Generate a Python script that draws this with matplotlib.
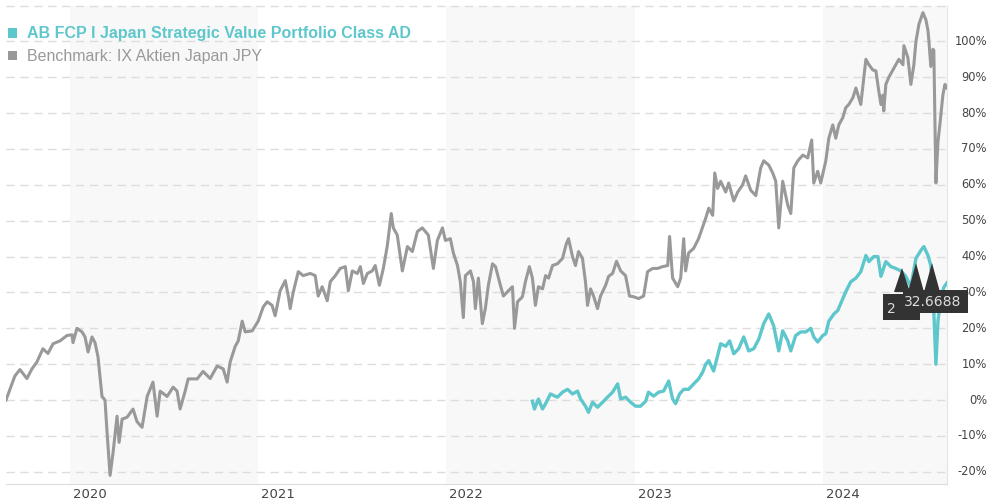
import matplotlib
matplotlib.use("Agg")
import matplotlib.pyplot as plt
import matplotlib.transforms as mtrans
from matplotlib.transforms import blended_transform_factory
from matplotlib.patches import Rectangle, Polygon

# ---- data (x in decimal years, y in % performance) ----
bench_t = [2019.660, 2019.681, 2019.707, 2019.734, 2019.771, 2019.798, 2019.824, 2019.856, 2019.883, 2019.910,
           2019.947, 2019.984, 2020.011, 2020.016, 2020.037, 2020.064, 2020.080, 2020.096, 2020.117, 2020.133,
           2020.149, 2020.170, 2020.186, 2020.197, 2020.213, 2020.229, 2020.250, 2020.261, 2020.277, 2020.303,
           2020.335, 2020.356, 2020.383, 2020.410, 2020.441, 2020.463, 2020.479, 2020.516, 2020.548, 2020.569,
           2020.585, 2020.612, 2020.628, 2020.676, 2020.707, 2020.745, 2020.782, 2020.814, 2020.835, 2020.851,
           2020.878, 2020.894, 2020.915, 2020.931, 2020.968, 2021.000, 2021.027, 2021.048, 2021.074, 2021.090,
           2021.117, 2021.144, 2021.160, 2021.170, 2021.186, 2021.213, 2021.239, 2021.277, 2021.303, 2021.319,
           2021.340, 2021.367, 2021.383, 2021.410, 2021.436, 2021.463, 2021.479, 2021.500, 2021.527, 2021.543,
           2021.559, 2021.580, 2021.606, 2021.622, 2021.644, 2021.665, 2021.686, 2021.707, 2021.718, 2021.739,
           2021.766, 2021.793, 2021.819, 2021.846, 2021.872, 2021.888, 2021.904, 2021.931, 2021.952, 2021.979,
           2021.995, 2022.021, 2022.037, 2022.059, 2022.074, 2022.090, 2022.101, 2022.128, 2022.144, 2022.154,
           2022.170, 2022.191, 2022.207, 2022.223, 2022.245, 2022.261, 2022.287, 2022.303, 2022.330, 2022.351,
           2022.362, 2022.378, 2022.404, 2022.420, 2022.441, 2022.457, 2022.473, 2022.489, 2022.511, 2022.527,
           2022.543, 2022.564, 2022.590, 2022.617, 2022.638, 2022.649, 2022.670, 2022.686, 2022.702, 2022.723,
           2022.739, 2022.750, 2022.766, 2022.782, 2022.803, 2022.819, 2022.846, 2022.862, 2022.883, 2022.904,
           2022.926, 2022.952, 2022.973, 2022.995, 2023.021, 2023.048, 2023.069, 2023.096, 2023.122, 2023.149,
           2023.176, 2023.186, 2023.202, 2023.229, 2023.245, 2023.261, 2023.271, 2023.287, 2023.314, 2023.340,
           2023.378, 2023.394, 2023.415, 2023.426, 2023.441, 2023.457, 2023.484, 2023.500, 2023.527, 2023.548,
           2023.574, 2023.590, 2023.617, 2023.644, 2023.670, 2023.686, 2023.713, 2023.734, 2023.750, 2023.766,
           2023.787, 2023.814, 2023.830, 2023.846, 2023.867, 2023.894, 2023.920, 2023.941, 2023.952, 2023.973,
           2023.989, 2024.016, 2024.032, 2024.053, 2024.069, 2024.085, 2024.106, 2024.122, 2024.138, 2024.160,
           2024.176, 2024.191, 2024.202, 2024.218, 2024.229, 2024.245, 2024.266, 2024.282, 2024.298, 2024.309,
           2024.319, 2024.324, 2024.335, 2024.351, 2024.372, 2024.388, 2024.404, 2024.426, 2024.431, 2024.452,
           2024.468, 2024.484, 2024.495, 2024.511, 2024.532, 2024.548, 2024.559, 2024.564, 2024.574, 2024.585,
           2024.590, 2024.601, 2024.612, 2024.622, 2024.638, 2024.649, 2024.660]
bench_v = [0, 3, 6.7, 8.5, 6, 8.7, 10.6, 14.3, 13, 15.7,
           16.5, 18, 18.2, 16, 20, 19, 17.6, 13.4, 17.6, 16,
           12, 1, 0, -9, -21, -14.6, -4.5, -11.8, -5.3, -4.8,
           -2.5, -6, -7.6, 1, 5, -4.5, 2.5, 1, 3.6, 2.5,
           -2.5, 2.5, 5.9, 5.9, 8, 6, 9.5, 8.7, 5, 10.6,
           15, 16.5, 22, 19, 19.3, 22, 26, 27.4, 26.4, 23.5,
           30.5, 33.3, 29, 25.5, 30, 35.8, 34.7, 35.3, 34.7, 29,
           31.6, 27.7, 33, 34.7, 36.7, 37.2, 30.5, 36, 35.3, 37.2,
           32.5, 35.3, 36, 37.5, 32, 36.7, 43, 52, 48, 46,
           36, 42.8, 41.4, 47, 48, 47, 46, 36.7, 44.5, 48,
           44.5, 45, 41, 37.5, 33, 23, 34.7, 36, 33, 25.5,
           34, 21.3, 25.5, 32, 38, 37.2, 32, 29, 30.5, 31.6,
           20, 27.4, 28.8, 33, 37.2, 34, 26.4, 31.6, 31, 34.7,
           34, 37.5, 38, 39.5, 43.7, 45, 40, 37.5, 41.4, 39.5,
           33, 26.4, 31, 29, 25.5, 29, 32, 34.5, 35.3, 38.7,
           36, 34.7, 29, 28.8, 28.3, 29, 35.8, 36.7, 36.7, 37.2,
           37.5, 45.6, 34, 31.6, 34, 45, 36, 41, 42.3, 45,
           50.7, 53.5, 51.5, 63.3, 59, 61, 58, 60.5, 55.5, 58,
           60, 62.5, 58.5, 57, 64.7, 66.7, 65.5, 63.3, 61, 48,
           61, 54.3, 52, 64.7, 66.7, 68.3, 67.5, 72.5, 60.5, 63.8,
           60.5, 66.7, 73, 76.7, 73, 76.7, 78.7, 81.5, 82.4, 84.3,
           87, 84.3, 82.4, 90, 95, 93.5, 92, 91.8, 86, 82.4,
           85, 80.6, 88, 90, 92, 93.5, 95, 93.5, 98.8, 95.5,
           88, 93.5, 100, 104.8, 108, 106, 103, 100, 93, 97.8,
           97.5, 60.5, 72, 76.7, 85, 88, 87]

fund_t = [2022.457, 2022.468, 2022.489, 2022.511, 2022.527, 2022.553, 2022.590, 2022.617, 2022.644, 2022.670,
          2022.697, 2022.713, 2022.739, 2022.755, 2022.777, 2022.803, 2022.830, 2022.856, 2022.883, 2022.910,
          2022.926, 2022.952, 2022.979, 2023.005, 2023.032, 2023.059, 2023.074, 2023.101, 2023.128, 2023.154,
          2023.181, 2023.202, 2023.218, 2023.239, 2023.261, 2023.287, 2023.314, 2023.340, 2023.362, 2023.378,
          2023.394, 2023.420, 2023.441, 2023.457, 2023.484, 2023.505, 2023.527, 2023.553, 2023.580, 2023.606,
          2023.633, 2023.660, 2023.686, 2023.713, 2023.739, 2023.766, 2023.787, 2023.814, 2023.830, 2023.856,
          2023.883, 2023.910, 2023.936, 2023.952, 2023.973, 2024.000, 2024.016, 2024.032, 2024.059, 2024.080,
          2024.096, 2024.122, 2024.149, 2024.176, 2024.202, 2024.229, 2024.245, 2024.271, 2024.293, 2024.309,
          2024.335, 2024.362, 2024.388, 2024.415, 2024.441, 2024.468, 2024.495, 2024.521, 2024.537, 2024.559,
          2024.574, 2024.590, 2024.601, 2024.612, 2024.628, 2024.644, 2024.660]
fund_v = [-0.3, -2.5, 0.3, -2.5, -1, 1.7, 0.8, 2.2, 3, 1.7,
          2.5, 0.3, -1.7, -3.4, -0.6, -2, -0.6, 0.8, 2.2, 4.5,
          0.3, 0.8, -0.6, -1.7, -1.7, -0.3, 2.2, 1.1, 2.2, 2.5,
          5.3, 0.3, -1, 1.7, 3, 3, 4.5, 5.9, 7.8, 10,
          11, 8.1, 12.3, 15.7, 15, 16.5, 12.9, 14.3, 17.6, 13.7,
          14.3, 17, 21.3, 24, 20.7, 13.7, 19.3, 16.5, 13.7, 18,
          19, 19, 20, 17.6, 16.2, 18, 18.5, 22, 24, 25,
          27, 30.2, 33, 34, 35.8, 40.3, 38.6, 40, 40, 34.5,
          38.6, 37.2, 36.7, 36, 34.5, 31.6, 39.5, 41.7, 42.8, 40.3,
          37.5, 24.6, 10, 22, 29, 31.5, 32.6688]

year_ticks = [2020, 2021, 2022, 2023, 2024]
shaded_years = [2020, 2022, 2024]
y_ticks = [-20, -10, 0, 10, 20, 30, 40, 50, 60, 70, 80, 90, 100]
grid_levels = [-20, -10, 0, 10, 20, 30, 40, 50, 60, 70, 80, 90, 100, 110]
fund_name = "AB FCP I Japan Strategic Value Portfolio Class AD"
bench_name = "Benchmark: IX Aktien Japan JPY"
tooltip_texts = ["2", "32.6688"]

FUND_C = "#5ec7cc"
BENCH_C = "#999999"

W, H = 989, 503
fig = plt.figure(figsize=(W / 100, H / 100), dpi=100)
ax = fig.add_axes([6 / W, 1 - 484 / H, (947 - 6) / W, (484 - 5.5) / H])

x0, x1 = bench_t[0], bench_t[-1]
ax.set_xlim(x0, x1)
ax.set_ylim(-23.4, 110)

for y in shaded_years:
    ax.axvspan(y, min(y + 1, x1), color="#f8f8f8", zorder=0, lw=0)
for g in grid_levels:
    ax.axhline(g, color="#dddddd", lw=1, ls=(0, (6, 4)), zorder=1, clip_on=False)

ax.plot(bench_t, bench_v, color=BENCH_C, lw=2.2, zorder=3, solid_joinstyle="round")
ax.plot(fund_t, fund_v, color=FUND_C, lw=2.4, zorder=4, solid_joinstyle="round")

for s in ["left", "top"]:
    ax.spines[s].set_visible(False)
ax.spines["bottom"].set_color("#dddddd")
ax.spines["right"].set_color("#e4e4e4")
ax.spines["bottom"].set_zorder(5)

ax.set_yticks([])
ax.set_xticks(year_ticks)
ax.set_xticklabels([str(y) for y in year_ticks], ha="left", fontsize=9.5,
                   color="#444444", family="DejaVu Sans")
ax.tick_params(axis="x", length=0, pad=3)
offset = mtrans.ScaledTranslation(3 / 100, 0, fig.dpi_scale_trans)
for lbl in ax.get_xticklabels():
    lbl.set_transform(lbl.get_transform() + offset)

tr = blended_transform_factory(fig.transFigure, ax.transData)
for v in y_ticks:
    ax.text(987 / W, v, f"{v}%", transform=tr, ha="right", va="center",
            fontsize=8.3, color="#444444", family="DejaVu Sans")

# legend
for i, (name, col, wt) in enumerate([(fund_name, FUND_C, "bold"), (bench_name, BENCH_C, "normal")]):
    yy = 1 - (33 + 23 * i) / H
    fig.patches.append(Rectangle((8 / W, yy - 4.5 / H), 9 / W, 9 / H, transform=fig.transFigure,
                                 facecolor=col, edgecolor="none", zorder=10))
    fig.text(27 / W, yy, name, ha="left", va="center", fontsize=11.5, color=col,
             fontweight=wt, family="Liberation Sans", zorder=10)

# tooltip artefacts at the right end
dark = "#333333"
for px, py in [(902, 268), (916, 263), (932, 263)]:
    fig.patches.append(Polygon([((px - 8) / W, 1 - 292 / H), (px / W, 1 - py / H), ((px + 8) / W, 1 - 292 / H)],
                               closed=True, transform=fig.transFigure, facecolor=dark, edgecolor="none", zorder=11))
fig.patches.append(Rectangle((883 / W, 1 - 320 / H), 37 / W, 26 / H, transform=fig.transFigure,
                             facecolor=dark, edgecolor="none", zorder=11))
fig.patches.append(Rectangle((903 / W, 1 - 313 / H), 65 / W, 23 / H, transform=fig.transFigure,
                             facecolor=dark, edgecolor="none", zorder=11))
fig.text(891 / W, 1 - 309 / H, tooltip_texts[0], ha="center", va="center", fontsize=10,
         color="#dddddd", zorder=12, family="DejaVu Sans")
fig.text(933 / W, 1 - 302 / H, tooltip_texts[1], ha="center", va="center", fontsize=10,
         color="#dddddd", zorder=12, family="DejaVu Sans")

fig.savefig("out.png", dpi=100, facecolor="white")
